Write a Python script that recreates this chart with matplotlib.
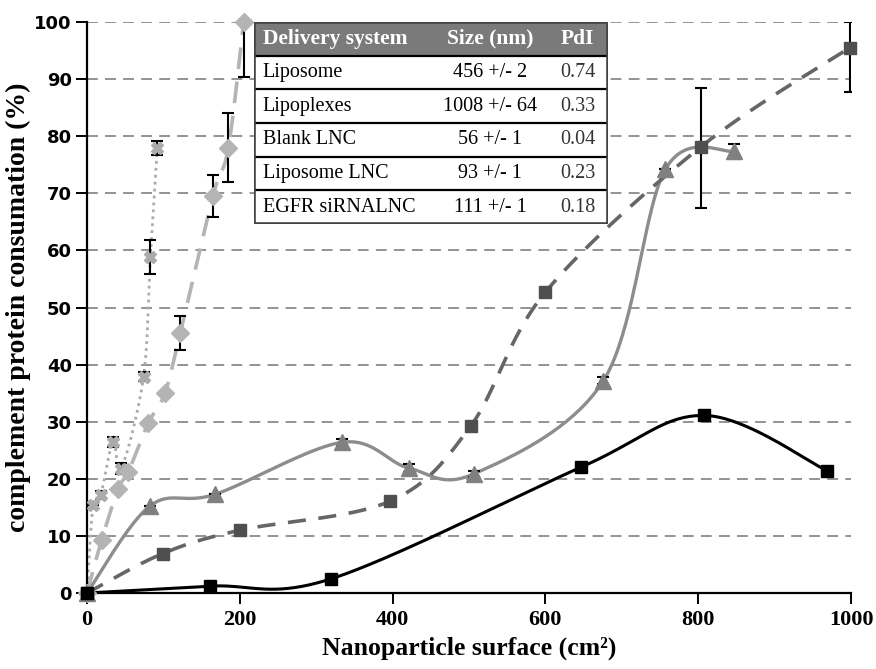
import numpy as np
import matplotlib
matplotlib.use("Agg")
import matplotlib.pyplot as plt
from matplotlib.patches import Rectangle

# ------- DATA -------
# EGFR siRNA LNC (black, squares)
egfr_x = [0, 161, 320, 646, 808, 969]
egfr_y = [0, 1.2, 2.5, 22.0, 31.1, 21.4]

# Lipoplexes (dark grey, dashed, squares)
lplx_x = [0, 99, 200, 397, 502, 600, 803, 998]
lplx_y = [0, 6.9, 11.0, 16.1, 29.2, 52.7, 78.1, 95.5]
lplx_lo = [0, 0, 0, 0.6, 0.6, 0, 10.6, 7.7]
lplx_hi = [0, 0, 0, 0.6, 0.6, 0, 10.3, 4.5]

# Liposome (grey, solid, triangles)
lipo_x = [0, 82, 168, 334, 421, 507, 676, 757, 847]
lipo_y = [0, 15.2, 17.3, 26.4, 21.9, 20.9, 37.2, 74.2, 77.4]
lipo_err = [0, 0, 0, 0.6, 0.7, 0.5, 0.6, 0, 1.3]

# Liposome LNC (light grey, dashed, diamonds)
llnc_x = [0, 19, 41, 54, 80, 102, 122, 165, 185, 205]
llnc_y = [0, 9.2, 18.3, 21.2, 29.7, 35.0, 45.5, 69.6, 78.0, 100.0]
llnc_err = [0, 0, 0, 0, 0, 0, 3.0, 3.7, 6.0, 9.6]

# Blank LNC (light grey, dotted, crosses)
blnc_x = [0, 8, 18, 34, 45, 74, 83, 92]
blnc_y = [0, 15.4, 17.2, 26.5, 21.8, 37.9, 58.8, 78.0]
blnc_err = [0, 0, 0.7, 0.9, 1.0, 0.8, 3.0, 1.2]

# table
systems = ["Liposome", "Lipoplexes", "Blank LNC", "Liposome LNC", "EGFR siRNALNC"]
sizes = ["456 +/- 2", "1008 +/- 64", "56 +/- 1", "93 +/- 1", "111 +/- 1"]
pdis = ["0.74", "0.33", "0.04", "0.23", "0.18"]
headers = ["Delivery system", "Size (nm)", "PdI"]

x_ticks = [0, 200, 400, 600, 800, 1000]
y_ticks = list(range(0, 101, 10))


# ------- smoothed line (Excel-like bezier through the points) -------
def smooth(x, y, n=40):
    P = np.column_stack([x, y]).astype(float)
    out = [P[0]]
    t = np.linspace(0, 1, n)[1:, None]
    for i in range(len(P) - 1):
        p0 = P[i - 1] if i > 0 else P[i]
        p1, p2 = P[i], P[i + 1]
        p3 = P[i + 2] if i + 2 < len(P) else P[i + 1]
        c1 = p1 + (p2 - p0) / 6.0
        c2 = p2 - (p3 - p1) / 6.0
        seg = ((1 - t) ** 3) * p1 + 3 * ((1 - t) ** 2) * t * c1 + 3 * (1 - t) * t ** 2 * c2 + t ** 3 * p2
        out.extend(seg)
    out = np.array(out)
    return out[:, 0], out[:, 1]


fig = plt.figure(figsize=(8.76, 6.69), dpi=100)
ax = fig.add_axes([0.0993, 0.1136, 0.8722, 0.8534])

ax.set_xlim(0, 1000)
ax.set_ylim(0, 100)

for v in y_ticks[1:]:
    ax.axhline(v, color="#8a8a8a", lw=1.3, ls=(0, (6, 4)), zorder=0)

# lines
sx, sy = smooth(blnc_x, blnc_y)
ax.plot(sx, sy, color="#ababab", lw=2.0, ls=(0, (1, 1.5)), zorder=2)
sx, sy = smooth(llnc_x, llnc_y)
ax.plot(sx, sy, color="#b4b4b4", lw=2.6, ls=(0, (6, 3.5)), zorder=2)
sx, sy = smooth(lipo_x, lipo_y)
ax.plot(sx, sy, color="#8d8d8d", lw=2.4, zorder=2)
sx, sy = smooth(lplx_x, lplx_y)
ax.plot(sx, sy, color="#666666", lw=2.6, ls=(0, (5, 3.5)), zorder=2)
sx, sy = smooth(egfr_x, egfr_y)
ax.plot(sx, sy, color="#000000", lw=2.2, zorder=3)

# error bars
eb = dict(fmt="none", ecolor="black", elinewidth=1.5, capsize=4, capthick=1.5, zorder=4)
ax.errorbar(blnc_x, blnc_y, yerr=blnc_err, **eb)
ax.errorbar(llnc_x, llnc_y, yerr=llnc_err, **eb)
ax.errorbar(lipo_x, lipo_y, yerr=lipo_err, **eb)
ax.errorbar(lplx_x, lplx_y, yerr=[lplx_lo, lplx_hi], **eb)

# markers
ax.plot(blnc_x, blnc_y, ls="none", marker="X", ms=8, color="#ababab", mec="#ababab", zorder=5, clip_on=False)
ax.plot(llnc_x, llnc_y, ls="none", marker="D", ms=9, color="#b4b4b4", mec="#b4b4b4", zorder=5, clip_on=False)
ax.plot(lipo_x, lipo_y, ls="none", marker="^", ms=11, color="#808080", mec="#808080", zorder=5, clip_on=False)
ax.plot(lplx_x, lplx_y, ls="none", marker="s", ms=8, color="#4f4f4f", mec="#4f4f4f", zorder=5, clip_on=False)
ax.plot(egfr_x, egfr_y, ls="none", marker="s", ms=9, color="#000000", zorder=6, clip_on=False)

# axes styling
for s in ["top", "right"]:
    ax.spines[s].set_visible(False)
for s in ["left", "bottom"]:
    ax.spines[s].set_linewidth(1.6)
    ax.spines[s].set_color("black")
ax.set_xticks(x_ticks)
ax.set_yticks(y_ticks)
ax.tick_params(axis="both", direction="out", length=8, width=1.4)
ax.set_xticklabels([str(v) for v in x_ticks], family="Liberation Serif", weight="bold", fontsize=16)
ax.set_yticklabels([str(v) for v in y_ticks], family="DejaVu Sans", weight="bold", fontsize=13)
ax.tick_params(axis="x", pad=4)
ax.tick_params(axis="y", pad=3)

ax.set_xlabel("Nanoparticle surface (cm²)", family="Liberation Serif", weight="bold", fontsize=18.5, labelpad=5)
ax.set_ylabel("complement protein consumation (%)", family="Liberation Serif", weight="bold", fontsize=20, labelpad=2)

# table
tab = fig.add_axes([0.29, 0.665, 0.404, 0.302])
tab.set_xlim(0, 1)
tab.set_ylim(0, 6)
tab.axis("off")
tab.add_patch(Rectangle((0, 5), 1, 1, facecolor="#7a7a7a", edgecolor="none", zorder=1))
tab.add_patch(Rectangle((0, 0), 1, 5, facecolor="white", edgecolor="none", zorder=1))
for r in range(1, 6):
    tab.axhline(r, color="black", lw=1.6, zorder=2)
tab.add_patch(Rectangle((0, 0), 1, 6, facecolor="none", edgecolor="#444444", lw=2.6, zorder=3))

hx = [0.025, 0.667, 0.915]
tab.text(hx[0], 5.5, headers[0], ha="left", va="center", color="white", family="Liberation Serif", weight="bold", fontsize=15.5, zorder=4)
tab.text(hx[1], 5.5, headers[1], ha="center", va="center", color="white", family="Liberation Serif", weight="bold", fontsize=15.5, zorder=4)
tab.text(hx[2], 5.5, headers[2], ha="center", va="center", color="white", family="Liberation Serif", weight="bold", fontsize=15.5, zorder=4)
for i, (nm, sz, pd) in enumerate(zip(systems, sizes, pdis)):
    yy = 4.5 - i
    tab.text(hx[0], yy, nm, ha="left", va="center", family="Liberation Serif", fontsize=14.5, zorder=4)
    tab.text(hx[1], yy, sz, ha="center", va="center", family="Liberation Serif", fontsize=14.5, zorder=4)
    tab.text(hx[2], yy, pd, ha="center", va="center", family="Liberation Serif", fontsize=14.5, color="#333333", zorder=4)

fig.savefig("out.png", dpi=100)
